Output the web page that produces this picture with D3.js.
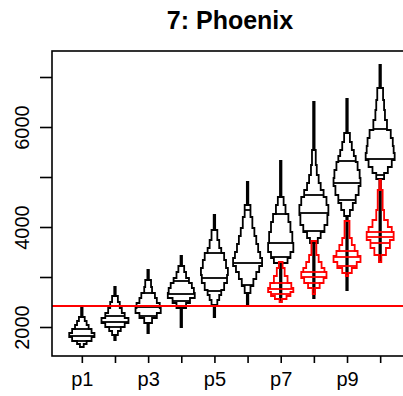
<!DOCTYPE html>
<html>
<head>
<meta charset="utf-8">
<script src="https://cdn.jsdelivr.net/npm/d3@7"></script>
<style>
  html, body { margin: 0; padding: 0; background: #fff; }
  svg { display: block; }
  text { font-family: "Liberation Sans", Arial, sans-serif; fill: #000; }
</style>
</head>
<body>
<script>
// Projection periods on the x axis
const categories = ["p1", "p2", "p3", "p4", "p5", "p6", "p7", "p8", "p9", "p10"];
const xTickLabels = ["p1", "", "p3", "", "p5", "", "p7", "", "p9", ""];
const yTicks = [2000, 3000, 4000, 5000, 6000, 7000];
const yTickLabels = ["2000", "", "4000", "", "6000", ""];
const referenceLevel = 2420;

// Stepped density outline for each period: bin edges (top to bottom) and relative density per bin
const blackEdges = [
  [2380, 2200, 2120, 2040, 1960, 1880, 1800, 1720, 1660, 1600],
  [2800, 2620, 2500, 2380, 2280, 2180, 2080, 2000, 1920, 1840, 1740],
  [3140, 2940, 2800, 2680, 2580, 2480, 2380, 2280, 2180, 2080, 1880],
  [3420, 3220, 3100, 2980, 2880, 2780, 2680, 2580, 2480, 2380, 2000],
  [4240, 3940, 3740, 3580, 3480, 3340, 3180, 3040, 2880, 2740, 2640, 2540, 2440, 2200],
  [4900, 4440, 4200, 3980, 3820, 3660, 3500, 3380, 3220, 3100, 2960, 2820, 2680, 2440],
  [5320, 4600, 4440, 4260, 4100, 3900, 3680, 3500, 3380, 3280, 2500],
  [6500, 5540, 5240, 5040, 4880, 4740, 4600, 4440, 4240, 4040, 3900, 3780, 3680, 2580],
  [6560, 5880, 5700, 5540, 5420, 5300, 5140, 4980, 4820, 4640, 4480, 4340, 4220, 2740],
  [7240, 6780, 6540, 6340, 6140, 5940, 5780, 5620, 5480, 5340, 5200, 5080, 4960, 3300]
];
const blackDensity = [
  [5, 20, 33, 47, 67, 87, 67, 33, 13],
  [5, 20, 33, 47, 67, 93, 67, 40, 20, 5],
  [5, 20, 27, 47, 60, 80, 87, 60, 27, 5],
  [5, 20, 33, 53, 73, 87, 93, 60, 33, 5],
  [5, 20, 33, 47, 67, 80, 93, 87, 67, 47, 33, 20, 5],
  [5, 20, 33, 47, 60, 73, 87, 100, 80, 60, 40, 20, 5],
  [5, 20, 33, 53, 67, 80, 87, 67, 47, 5],
  [5, 13, 20, 33, 47, 67, 87, 100, 93, 73, 47, 27, 5],
  [5, 20, 33, 47, 60, 73, 87, 93, 80, 60, 40, 20, 5],
  [5, 20, 27, 33, 47, 73, 87, 93, 100, 80, 53, 27, 5]
];
const blackQuantiles = [
  [1960, 1820, 1720],
  [2220, 2100, 2000],
  [2680, 2400, 2220],
  [2920, 2660, 2520],
  [3480, 2980, 2720],
  [4340, 3280, 2840],
  [4260, 3680, 3400],
  [4640, 4280, 3920],
  [5320, 4880, 4540],
  [5960, 5360, 5040]
];

// Second series, shown for the later periods only
const redCategories = ["p7", "p8", "p9", "p10"];
const redEdges = [
  [3300, 3180, 3020, 2880, 2780, 2700, 2620, 2560, 2500],
  [3720, 3440, 3300, 3180, 3100, 2980, 2880, 2780, 2660],
  [4120, 3780, 3640, 3520, 3420, 3300, 3180, 3080, 3020],
  [4940, 4740, 4340, 4140, 4000, 3900, 3740, 3580, 3440, 3300]
];
const redDensity = [
  [13, 27, 47, 73, 87, 67, 40, 8],
  [17, 33, 53, 73, 87, 67, 40, 8],
  [17, 33, 53, 73, 93, 67, 33, 8],
  [5, 17, 27, 53, 80, 93, 67, 40, 8]
];
const redQuantiles = [
  [2880, 2760, 2660],
  [3100, 3000, 2880],
  [3520, 3400, 3220],
  [3900, 3800, 3680]
];

const W = 403, H = 396;
const frame = { left: 52, top: 51, right: 410, bottom: 356 };

const svg = d3.select("body").append("svg")
  .attr("width", W).attr("height", H);

// x: periods as positions 1..10, padded the way a base boxplot pads its range
const x = d3.scaleLinear().domain([0.1, 10.9]).range([frame.left, frame.right]);
const y = d3.scaleLinear().domain([1420, 7520]).range([frame.bottom, frame.top]);
const halfWidth = d3.scaleLinear().domain([0, 100]).range([0, 14.5]);

function profilePath(cx, edges, dens) {
  const ys = edges.map(y);
  const ws = dens.map(halfWidth);
  const n = ws.length;
  let p = `M${cx - ws[0]},${ys[0]}H${cx + ws[0]}`;
  for (let i = 0; i < n; i++) {
    p += `V${ys[i + 1]}`;
    if (i < n - 1) p += `H${cx + ws[i + 1]}`;
  }
  p += `H${cx - ws[n - 1]}`;
  for (let i = n - 1; i >= 0; i--) {
    p += `V${ys[i]}`;
    if (i > 0) p += `H${cx - ws[i - 1]}`;
  }
  return p + "Z";
}

function widthAt(v, edges, dens) {
  for (let i = 0; i < dens.length; i++) {
    if (v <= edges[i] && v >= edges[i + 1]) return halfWidth(dens[i]);
  }
  return 0;
}

function drawSeries(cats, edgesAll, densAll, quantAll, color, fill) {
  const g = svg.append("g");
  cats.forEach((c, k) => {
    const cx = x(categories.indexOf(c) + 1);
    g.append("path")
      .attr("d", profilePath(cx, edgesAll[k], densAll[k]))
      .attr("fill", fill)
      .attr("stroke", color)
      .attr("stroke-width", 1.8)
      .attr("stroke-linejoin", "miter");
    quantAll[k].forEach(q => {
      const w = widthAt(q, edgesAll[k], densAll[k]);
      g.append("line")
        .attr("x1", cx - w).attr("x2", cx + w)
        .attr("y1", y(q)).attr("y2", y(q))
        .attr("stroke", color).attr("stroke-width", 1.8);
    });
  });
}

drawSeries(categories, blackEdges, blackDensity, blackQuantiles, "#000", "#fff");
drawSeries(redCategories, redEdges, redDensity, redQuantiles, "#ff0000", "none");

// reference level
svg.append("line")
  .attr("x1", frame.left).attr("x2", frame.right)
  .attr("y1", y(referenceLevel)).attr("y2", y(referenceLevel))
  .attr("stroke", "#ff0000").attr("stroke-width", 1.8);

// plot frame
svg.append("rect")
  .attr("x", frame.left).attr("y", frame.top)
  .attr("width", frame.right - frame.left).attr("height", frame.bottom - frame.top)
  .attr("fill", "none").attr("stroke", "#000").attr("stroke-width", 1.6);

// y axis
const yAxis = d3.axisLeft(y).tickValues(yTicks)
  .tickFormat((d, i) => yTickLabels[i]).tickSizeOuter(0).tickSize(12).tickPadding(10);
const ya = svg.append("g").attr("transform", `translate(${frame.left},0)`).call(yAxis);
ya.select(".domain").remove();
ya.selectAll(".tick line").attr("stroke", "#000").attr("stroke-width", 1.6);
ya.selectAll(".tick text")
  .attr("font-size", 20)
  .attr("text-anchor", "middle")
  .attr("dy", 0)
  .attr("x", 0)
  .attr("transform", "translate(-23,0) rotate(-90)");

// x axis
const xAxis = d3.axisBottom(x).tickValues(d3.range(1, 11))
  .tickFormat((d, i) => xTickLabels[i]).tickSizeOuter(0).tickSize(7).tickPadding(9);
const xa = svg.append("g").attr("transform", `translate(0,${frame.bottom})`).call(xAxis);
xa.select(".domain").remove();
xa.selectAll(".tick line").attr("stroke", "#000").attr("stroke-width", 1.6);
xa.selectAll(".tick text").attr("font-size", 20);

// title
svg.append("text")
  .attr("x", 230).attr("y", 29)
  .attr("text-anchor", "middle")
  .attr("font-size", 25).attr("font-weight", "bold")
  .text("7: Phoenix");
</script>
</body>
</html>
